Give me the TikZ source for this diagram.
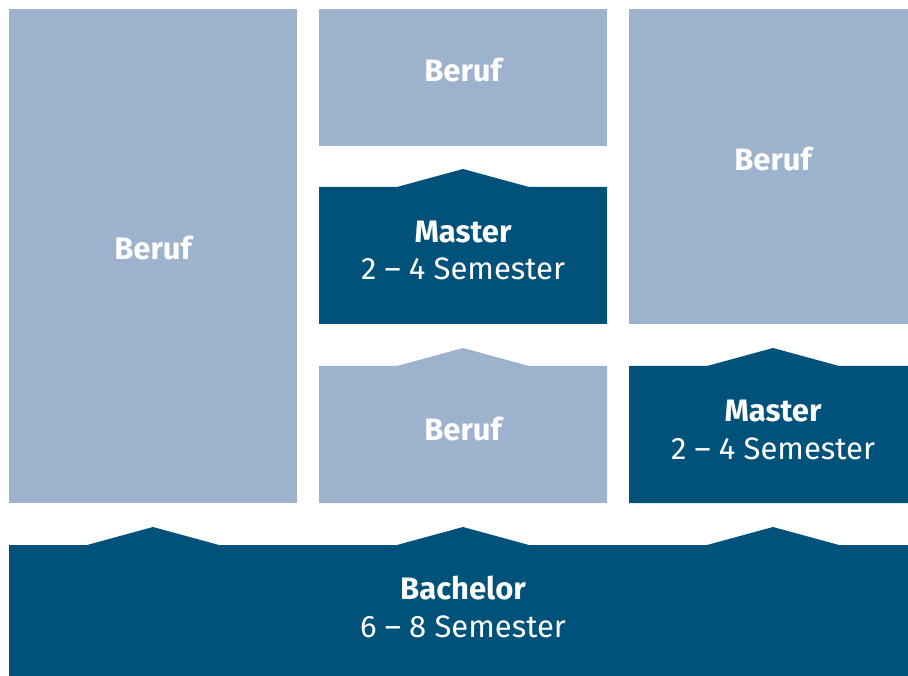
\documentclass[tikz,border=0pt]{standalone}
\usepackage{fontspec}
\setmainfont{Fira Sans}
\definecolor{lightblue}{RGB}{157,178,204}
\definecolor{darkblue}{RGB}{0,82,122}
\tikzset{
  lightbox/.style={fill=lightblue},
  darkbox/.style={fill=darkblue},
  headtext/.style={text=white,font=\fontsize{31}{37}\selectfont\bfseries,anchor=base,inner sep=0pt},
  subtext/.style={text=white,font=\fontsize{31}{37}\selectfont,anchor=base,inner sep=0pt}
}
\begin{document}
\begin{tikzpicture}[x=1pt,y=-1pt]
\useasboundingbox (0,0) rectangle (908,676);
\begin{scope}
\clip (0,0) rectangle (908,676);
% left column
\fill[lightbox] (9,9) rectangle (297,503);
% middle column
\fill[lightbox] (319,9) rectangle (607,146);
\fill[darkbox] (319,187) -- (397,187) -- (463,169) -- (529,187) -- (607,187) -- (607,324) -- (319,324) -- cycle;
\fill[lightbox] (319,366) -- (397,366) -- (463,348) -- (529,366) -- (607,366) -- (607,503) -- (319,503) -- cycle;
% right column
\fill[lightbox] (629,9) rectangle (917,324);
\fill[darkbox] (629,366) -- (707,366) -- (773,348) -- (839,366) -- (917,366) -- (917,503) -- (629,503) -- cycle;
% bachelor
\fill[darkbox] (9,545) -- (87,545) -- (153,527) -- (219,545) -- (397,545) -- (463,527) -- (529,545)
  -- (707,545) -- (773,527) -- (839,545) -- (917,545) -- (917,680) -- (9,680) -- cycle;
\end{scope}
% texts
\node[headtext] (beruf1) at (153,260) {Beruf};
\node[headtext] (beruf2) at (463,82) {Beruf};
\node[headtext] (beruf3) at (773,171) {Beruf};
\node[headtext] (beruf4) at (463,440) {Beruf};
\node[headtext] (master1) at (463,243) {Master};
\node[subtext] (sem1) at (463,280) {2 – 4 Semester};
\node[headtext] (master2) at (773,421) {Master};
\node[subtext] (sem2) at (773,459) {2 – 4 Semester};
\node[headtext] (bachelor) at (463,599) {Bachelor};
\node[subtext] (sem3) at (463,637) {6 – 8 Semester};
\end{tikzpicture}
\end{document}
